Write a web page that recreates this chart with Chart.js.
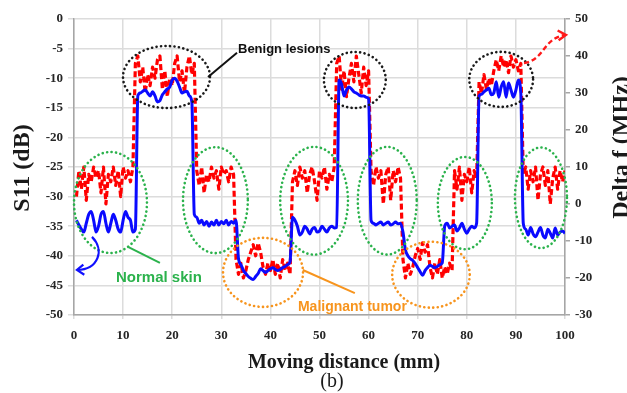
<!DOCTYPE html>
<html>
<head>
<meta charset="utf-8">
<script src="https://cdn.jsdelivr.net/npm/chart.js@4/dist/chart.umd.min.js"></script>
<style>
html,body{margin:0;padding:0;background:#fff;}
canvas{display:block;}
</style>
</head>
<body>
<canvas id="c" width="627" height="393"></canvas>
<script>
// Moving distance (mm)
const positions = [
  0.5,1,1.5,2,2.5,3,3.5,4,4.5,5,
  5.5,6,6.5,7,7.5,8,8.5,9,9.5,10,
  10.5,11,11.5,12,12.5,13,13.5,14,14.5,15,
  15.5,16,16.5,17,17.5,18,18.5,19,19.5,20,
  20.5,21,21.5,22,22.5,23,23.5,24,24.5,25,
  25.5,26,26.5,27,27.5,28,28.5,29,29.5,30,
  30.5,31,31.5,32,32.5,33,33.5,34,34.5,35,
  35.5,36,36.5,37,37.5,38,38.5,39,39.5,40,
  40.5,41,41.5,42,42.5,43,43.5,44,44.5,45,
  45.5,46,46.5,47,47.5,48,48.5,49,49.5,50,
  50.5,51,51.5,52,52.5,53,53.5,54,54.5,55,
  55.5,56,56.5,57,57.5,58,58.5,59,59.5,60,
  60.5,61,61.5,62,62.5,63,63.5,64,64.5,65,
  65.5,66,66.5,67,67.5,68,68.5,69,69.5,70,
  70.5,71,71.5,72,72.5,73,73.5,74,74.5,75,
  75.5,76,76.5,77,77.5,78,78.5,79,79.5,80,
  80.5,81,81.5,82,82.5,83,83.5,84,84.5,85,
  85.5,86,86.5,87,87.5,88,88.5,89,89.5,90,
  90.5,91,91.5,92,92.5,93,93.5,94,94.5,95,
  95.5,96,96.5,97,97.5,98,98.5,99,99.5,100
];
// S11 (dB)
const s11 = [
  -34,-34.8,-35.5,-36,-34.5,-33,-32.5,-34,-36,-35,
  -33,-32.5,-34.5,-36,-34.5,-33,-34,-35.5,-36,-34,
  -32.5,-33.5,-34,-36,-35.5,-13,-12.5,-12.2,-12,-12.5,
  -13,-12.3,-13,-14,-13.8,-12.8,-12.3,-11.8,-11.5,-10.3,
  -10,-10.5,-11.5,-12.5,-12.3,-12.2,-13,-14,-33,-33.5,
  -34.5,-34,-34.8,-34.2,-35,-34.3,-34.8,-34,-34.8,-34.2,
  -34.6,-34,-34.8,-34.2,-34.5,-34,-40.5,-41.5,-42.5,-43,
  -43.5,-43.8,-44,-43.5,-43,-42.2,-42.5,-42.8,-42.5,-42.2,
  -42,-42.3,-42.5,-42.3,-42,-41.8,-41.5,-41,-33.5,-34,
  -35,-36.5,-36,-35,-35.5,-36.3,-35.5,-35.2,-36,-35.8,
  -35,-35.5,-36,-35.3,-35,-35.3,-35.2,-10.3,-11,-13,
  -12,-11.5,-11.8,-12.3,-12.5,-12.8,-13,-13,-13.2,-13.5,
  -34,-34.5,-34.8,-34.5,-34.3,-34.8,-34.5,-34.3,-34.8,-34.6,
  -34.3,-34.6,-34.5,-36,-39,-40,-40.5,-40.8,-41.3,-42,
  -42.7,-43.3,-42.5,-42,-41.6,-41.8,-42,-41.8,-41.5,-41.2,
  -35,-34.5,-35.3,-35,-34.8,-35.8,-35.3,-34.5,-35.5,-36.2,
  -35.5,-35,-35.3,-34.5,-13,-12.7,-12.3,-12,-11.7,-12.8,
  -12.5,-10.6,-13.2,-11.5,-10.6,-13.2,-10.8,-12,-13.2,-12,
  -10.3,-12.5,-34.5,-35.5,-36.5,-35.2,-36.3,-36.8,-36,-35.2,
  -36.5,-37,-35.5,-36.2,-37,-35.3,-36.5,-36,-35.8,-36.2
];
// Delta f (MHz)
const deltaF = [
  2,9,4,10,1,8,6,10,7,9,
  3,10,0,8,6,10,5,9,2,10,
  7,9,6,10,38,40,33,37,30,35,
  32,37,34,39,40,31,36,29,34,32,
  38,40,33,36,30,37,40,35,38,9,
  5,10,3,8,6,10,7,9,4,10,
  8,9,6,10,8,-15,-19,-16,-20,-18,
  -15,-13,-11,-14,-10.5,-13,-17,-19,-16,-18,
  -15,-19,-16,-20,-15,-18,-16,-19,6,9,
  5,10,7,9,3,8,10,6,1,9,
  7,10,4,8,6,10,38,40,31,36,
  29,34,38,33,40,35,30,37,32,36,
  9,5,10,7,9,0,8,10,1,9,
  6,10,7,-15,-20,-16,-19,-17,-14,-12,
  -15,-10.5,-13,-11,-17,-20,-16,-19,-15,-20,
  -17,-19,-16,-18,9,4,10,1,8,6,
  10,3,9,7,33,30,35,31,34,32,
  36,39,36,40,37,39,35.5,40,37,39,
  36,38,8,10,4,9,6,10,1,8,
  10,5,9,0,7,10,4,9,6,9
];
const xTicks = [0,10,20,30,40,50,60,70,80,90,100];
const leftTicks = [-50,-45,-40,-35,-30,-25,-20,-15,-10,-5,0];
const rightTicks = [-30,-20,-10,0,10,20,30,40,50];

// Annotation geometry in data units (mm, dB)
const ellipses = [
  {cx:18.84, cy:-9.8,  rx:8.86, ry:5.24, c:'#1a1a1a'},
  {cx:57.2,  cy:-10.3, rx:6.3,  ry:4.73, c:'#1a1a1a'},
  {cx:87.0,  cy:-10.2, rx:6.5,  ry:4.65, c:'#1a1a1a'},
  {cx:7.43,  cy:-31.0, rx:7.43, ry:8.53, c:'#2bb24c'},
  {cx:28.8,  cy:-30.6, rx:6.6,  ry:8.95, c:'#2bb24c'},
  {cx:48.9,  cy:-30.7, rx:6.9,  ry:9.1,  c:'#2bb24c'},
  {cx:63.8,  cy:-30.7, rx:6.0,  ry:9.1,  c:'#2bb24c'},
  {cx:79.6,  cy:-31.1, rx:5.5,  ry:7.8,  c:'#2bb24c'},
  {cx:95.1,  cy:-30.2, rx:5.3,  ry:8.5,  c:'#2bb24c'},
  {cx:38.5,  cy:-42.8, rx:8.15, ry:5.83, c:'#f7941d'},
  {cx:72.7,  cy:-43.2, rx:7.9,  ry:5.57, c:'#f7941d'}
];

const annot = {
  id: 'annot',
  afterDatasetsDraw(chart) {
    const ctx = chart.ctx;
    const xs = chart.scales.x, ys = chart.scales.y;
    const px = v => xs.getPixelForValue(v), py = v => ys.getPixelForValue(v);
    ctx.save();
    // dotted ellipses
    ctx.lineCap = 'round';
    ctx.lineWidth = 2.6;
    ctx.setLineDash([0.1, 4.4]);
    ellipses.forEach(e => {
      ctx.strokeStyle = e.c;
      ctx.beginPath();
      ctx.ellipse(px(e.cx), py(e.cy), Math.abs(px(e.cx + e.rx) - px(e.cx)), Math.abs(py(e.cy - e.ry) - py(e.cy)), 0, 0, Math.PI * 2);
      ctx.stroke();
    });
    ctx.setLineDash([]);
    ctx.lineCap = 'butt';
    // leader lines
    ctx.lineWidth = 2;
    ctx.strokeStyle = '#111';
    ctx.beginPath(); ctx.moveTo(px(33.2), py(-5.7)); ctx.lineTo(px(27.3), py(-9.8)); ctx.stroke();
    ctx.strokeStyle = '#2bb24c';
    ctx.beginPath(); ctx.moveTo(px(11.0), py(-38.5)); ctx.lineTo(px(17.5), py(-41.2)); ctx.stroke();
    ctx.strokeStyle = '#f7941d';
    ctx.beginPath(); ctx.moveTo(px(46.6), py(-42.4)); ctx.lineTo(px(57.2), py(-46.3)); ctx.stroke();
    // blue arrow to left axis
    ctx.strokeStyle = '#1010ff';
    ctx.lineWidth = 2.2;
    ctx.beginPath();
    ctx.moveTo(px(3.66), py(-36.8));
    ctx.bezierCurveTo(px(6.3), py(-39.0), px(5.0), py(-42.3), px(0.6), py(-42.4));
    ctx.stroke();
    ctx.beginPath();
    ctx.moveTo(px(1.9), py(-41.5)); ctx.lineTo(px(0.6), py(-42.4)); ctx.lineTo(px(2.1), py(-43.2));
    ctx.stroke();
    // red dashed arrow to right axis
    ctx.strokeStyle = '#ff1a1a';
    ctx.lineWidth = 2.4;
    ctx.setLineDash([5, 3]);
    ctx.beginPath();
    ctx.moveTo(px(91.65), py(-7.43));
    ctx.bezierCurveTo(px(95.9), py(-6.93), px(95.4), py(-3.3), px(100.0), py(-2.7));
    ctx.stroke();
    ctx.setLineDash([]);
    ctx.beginPath();
    ctx.moveTo(px(98.5), py(-1.95)); ctx.lineTo(px(100.2), py(-2.7)); ctx.lineTo(px(98.7), py(-3.6));
    ctx.stroke();
    // labels
    ctx.textBaseline = 'middle';
    ctx.fillStyle = '#111';
    ctx.font = 'bold 13px "Liberation Sans", Arial, sans-serif';
    ctx.textAlign = 'left';
    ctx.fillText('Benign lesions', px(33.4), py(-5.2));
    ctx.textAlign = 'center';
    ctx.fillStyle = '#2bb24c';
    ctx.font = 'bold 15px "Liberation Sans", Arial, sans-serif';
    ctx.fillText('Normal skin', px(17.3), py(-43.75));
    ctx.fillStyle = '#f7941d';
    ctx.font = 'bold 14px "Liberation Sans", Arial, sans-serif';
    ctx.fillText('Malignant tumor', px(56.7), py(-48.6));
    ctx.restore();
  },
  afterDraw(chart) {
    const ctx = chart.ctx;
    ctx.save();
    ctx.fillStyle = '#1a1a1a';
    ctx.textAlign = 'center';
    ctx.textBaseline = 'alphabetic';
    ctx.font = 'bold 24px "Liberation Serif", "Times New Roman", serif';
    ctx.save(); ctx.translate(29, 168); ctx.rotate(-Math.PI / 2); ctx.fillText('S11 (dB)', 0, 0); ctx.restore();
    ctx.save(); ctx.translate(628, 147.5); ctx.rotate(-Math.PI / 2); ctx.fillText('Delta f (MHz)', 0, 0); ctx.restore();
    ctx.font = 'bold 20px "Liberation Serif", "Times New Roman", serif';
    ctx.fillText('Moving distance (mm)', 344, 368);
    ctx.font = '20px "Liberation Serif", "Times New Roman", serif';
    ctx.fillText('(b)', 332, 387);
    ctx.restore();
  }
};

const tickFont = {family: '"Liberation Serif", "Times New Roman", serif', size: 13, weight: 'bold'};

new Chart(document.getElementById('c'), {
  type: 'line',
  data: {
    datasets: [
      {
        label: 'S11',
        data: positions.map((p, i) => ({x: p, y: s11[i]})),
        yAxisID: 'y',
        borderColor: '#0a0aff',
        borderWidth: 3,
        borderJoinStyle: 'round',
        pointRadius: 0,
        cubicInterpolationMode: 'monotone',
        fill: false
      },
      {
        label: 'Delta f',
        data: positions.map((p, i) => ({x: p, y: deltaF[i]})),
        yAxisID: 'y2',
        borderColor: '#ff0000',
        borderWidth: 3.2,
        borderDash: [6, 3],
        borderJoinStyle: 'round',
        borderCapStyle: 'butt',
        pointRadius: 0,
        tension: 0,
        fill: false
      }
    ]
  },
  options: {
    responsive: false,
    animation: false,
    devicePixelRatio: 1,
    layout: {padding: {top: 19, left: 0, right: 0, bottom: 0}},
    plugins: {legend: {display: false}, tooltip: {enabled: false}},
    scales: {
      x: {
        type: 'linear', min: 0, max: 100,
        afterBuildTicks: s => { s.ticks = xTicks.map(v => ({value: v})); },
        afterFit: s => { s.height = 78; },
        ticks: {font: tickFont, color: '#262626', padding: 9, maxRotation: 0},
        grid: {color: '#dcdcdc', lineWidth: 1.5, tickLength: 4},
        border: {color: '#a6a6a6', width: 1.5}
      },
      y: {
        type: 'linear', position: 'left', min: -50, max: 0,
        afterBuildTicks: s => { s.ticks = leftTicks.map(v => ({value: v})); },
        afterFit: s => { s.width = 74; },
        ticks: {font: tickFont, color: '#262626', padding: 5},
        grid: {color: '#dcdcdc', lineWidth: 1.5, tickLength: 6},
        border: {color: '#a6a6a6', width: 1.5}
      },
      y2: {
        type: 'linear', position: 'right', min: -30, max: 50,
        afterBuildTicks: s => { s.ticks = rightTicks.map(v => ({value: v})); },
        afterFit: s => { s.width = 62; },
        ticks: {font: tickFont, color: '#262626', padding: 5},
        grid: {drawOnChartArea: false, color: '#a6a6a6', lineWidth: 1.5, tickLength: 5},
        border: {color: '#a6a6a6', width: 1.5}
      }
    }
  },
  plugins: [annot]
});
</script>
</body>
</html>
